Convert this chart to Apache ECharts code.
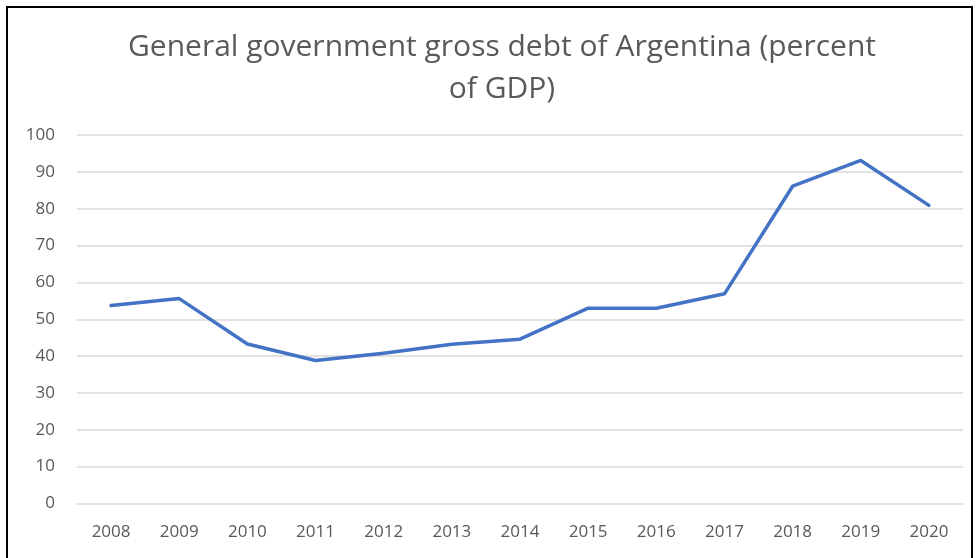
<!DOCTYPE html>
<html><head><meta charset="utf-8">
<script src="https://cdn.jsdelivr.net/npm/echarts@6/dist/echarts.min.js"></script>
<style>html,body{margin:0;padding:0;background:#fff}#c{width:976px;height:558px}</style>
</head><body><div id="c"></div>
<script>
const years = ['2008','2009','2010','2011','2012','2013','2014','2015','2016','2017','2018','2019','2020'];
const debt = [53.7, 55.6, 43.3, 38.8, 40.8, 43.2, 44.6, 53.0, 53.0, 56.9, 86.1, 93.1, 80.9];
const yTicks = {min: 0, max: 100, interval: 10};
const titleText = 'General government gross debt of Argentina (percent\nof GDP)';

const chart = echarts.init(document.getElementById('c'), null, {renderer: 'canvas'});
chart.setOption({
  backgroundColor: '#fff',
  animation: false,
  title: {
    text: titleText, left: 497, top: 21, textAlign: 'center',
    textStyle: {fontFamily: 'Open Sans', fontSize: 30, fontWeight: 'normal', color: '#595959', lineHeight: 42, align: 'center'}
  },
  graphic: [{type: 'rect', shape: {x: 7, y: 7, width: 965, height: 600}, style: {fill: 'none', stroke: '#000', lineWidth: 2}}],
  grid: {left: 77, right: 13, top: 135, bottom: 54.5},
  xAxis: {
    type: 'category', data: years, boundaryGap: true,
    axisLine: {show: false}, axisTick: {show: false},
    axisLabel: {color: '#595959', fontFamily: 'Open Sans', fontSize: 17, margin: 20}
  },
  yAxis: {
    type: 'value', min: yTicks.min, max: yTicks.max, interval: yTicks.interval,
    axisLine: {show: false}, axisTick: {show: false},
    axisLabel: {color: '#595959', fontFamily: 'Open Sans', fontSize: 17, margin: 22},
    splitLine: {lineStyle: {color: '#d9d9d9', width: 1.5}}
  },
  series: [{
    type: 'line', data: debt, symbol: 'none',
    lineStyle: {color: '#4472c4', width: 3.5, join: 'round', cap: 'round'}
  }]
});
</script></body></html>
